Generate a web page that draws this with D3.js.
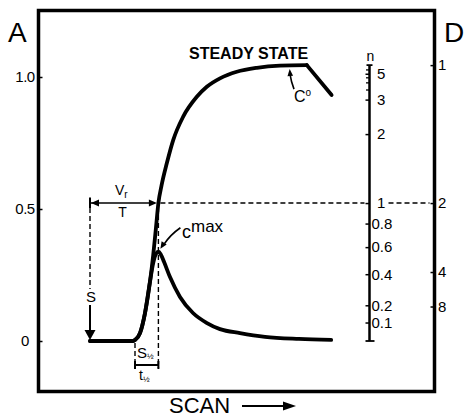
<!DOCTYPE html>
<html>
<head>
<meta charset="utf-8">
<script src="https://cdn.jsdelivr.net/npm/d3@7"></script>
<style>
  html, body { margin: 0; padding: 0; background: #fff; }
  svg { display: block; font-family: "Liberation Sans", Arial, Helvetica, sans-serif; }
</style>
</head>
<body>
<svg id="chart" width="464" height="417"></svg>
<script>
// Scan of a zone: steady-state front (reaches C0) and transient peak (cmax).
// x = scan distance (arbitrary units, 0 at the sample start), y = absorbance A.
const steadyScan = [
  [0, 0], [10.75, 0], [11.25, 0.004], [12.5, 0.03], [13.75, 0.106], [15, 0.225],
  [15.8, 0.325], [16.5, 0.43], [17.1, 0.5225], [17.9, 0.59], [19.2, 0.673],
  [20.8, 0.761], [23.3, 0.85], [26.7, 0.925], [29.2, 0.963], [32.5, 0.995],
  [36.7, 1.02], [41.7, 1.035], [47.5, 1.043], [54.2, 1.045]
];
const steadyFallOff = [[54.2, 1.045], [60.4, 0.932]];
const peakScan = [
  [0, 0], [10.75, 0], [11.25, 0.004], [12.5, 0.03], [13.75, 0.106], [15, 0.225],
  [15.8, 0.295], [16.5, 0.33], [17.1, 0.338], [17.7, 0.328], [18.5, 0.3],
  [20, 0.242], [22.5, 0.167], [25.75, 0.106], [29.25, 0.068], [32.5, 0.045],
  [37.5, 0.03], [43.75, 0.016], [52.25, 0.008], [60.3, 0.004]
];

const steadyLevel = 1.045;          // C0, plateau absorbance
const scanStart = 0;                // S
const frontStart = 11.25;           // start of the rising front
const halfPoint = 17.1;             // front at C0/2

const aTicks = [0, 0.5, 1.0];
const aTickLabels = ["0", "0.5", "1.0"];
const nTicks = [0.1, 0.2, 0.4, 0.6, 0.8, 1, 2, 3, 5];
const nTickLabels = ["0.1", "0.2", "0.4", "0.6", "0.8", "1", "2", "3", "5"];
const nMinorTicks = [3.5, 4, 4.5, 6];
const dTicks = [1, 2, 4, 8];
const dTickLabels = ["1", "2", "4", "8"];

// nomogram relations onto the absorbance scale
const nToA = n => steadyLevel * (1 - Math.pow(2, -n));
const dToA = d => steadyLevel / d;

const svg = d3.select("#chart");
const x = d3.scaleLinear().domain([-13, 86]).range([38, 434]);
const y = d3.scaleLinear().domain([0, 1]).range([341, 77]);

const frame = { left: 38.5, right: 434.5, top: 10.5, bottom: 391.5 };
const nAxisX = 369.5;

// frame
svg.append("rect")
  .attr("x", frame.left).attr("y", frame.top)
  .attr("width", frame.right - frame.left).attr("height", frame.bottom - frame.top)
  .attr("fill", "none").attr("stroke", "#000").attr("stroke-width", 3.5);

// left absorbance axis (ticks pointing inward)
const leftAxis = svg.append("g")
  .attr("transform", `translate(${frame.left},0)`)
  .call(d3.axisLeft(y).tickValues(aTicks).tickSizeInner(-4).tickSizeOuter(0)
    .tickFormat((d, i) => aTickLabels[i]));
leftAxis.select(".domain").remove();
leftAxis.selectAll(".tick line").attr("stroke", "#000").attr("stroke-width", 1.5);
leftAxis.selectAll(".tick text")
  .attr("x", -13.5).attr("text-anchor", "middle")
  .attr("font-size", 15).attr("font-family", "Liberation Sans, Arial, sans-serif")
  .attr("letter-spacing", -0.5).attr("fill", "#000");

// right D axis on the frame edge
const dAxis = svg.append("g")
  .attr("transform", `translate(${frame.right},0)`)
  .call(d3.axisRight(y).tickValues(dTicks.map(dToA)).tickSizeInner(-4).tickSizeOuter(0)
    .tickPadding(3.5).tickFormat((d, i) => dTickLabels[i]));
dAxis.select(".domain").remove();
dAxis.selectAll(".tick line").attr("stroke", "#000").attr("stroke-width", 1.5);
dAxis.selectAll(".tick text")
  .attr("font-size", 15).attr("font-family", "Liberation Sans, Arial, sans-serif").attr("fill", "#000");

// n axis (number of half-lives)
const nAxisG = svg.append("g");
nAxisG.append("line")
  .attr("x1", nAxisX).attr("x2", nAxisX)
  .attr("y1", y(0)).attr("y2", y(steadyLevel))
  .attr("stroke", "#000").attr("stroke-width", 2.5);
nAxisG.append("line")
  .attr("x1", nAxisX - 4).attr("x2", nAxisX + 5)
  .attr("y1", y(0)).attr("y2", y(0))
  .attr("stroke", "#000").attr("stroke-width", 1.8);
nAxisG.append("line")
  .attr("x1", nAxisX - 3).attr("x2", nAxisX + 3)
  .attr("y1", y(steadyLevel)).attr("y2", y(steadyLevel))
  .attr("stroke", "#000").attr("stroke-width", 1.8);
const nAxis = nAxisG.append("g")
  .attr("transform", `translate(${nAxisX},0)`)
  .call(d3.axisRight(y).tickValues(nTicks.map(nToA)).tickSizeInner(-4).tickSizeOuter(0)
    .tickPadding(2).tickFormat((d, i) => nTickLabels[i]));
nAxis.select(".domain").remove();
nAxis.selectAll(".tick line").attr("stroke", "#000").attr("stroke-width", 1.5);
nAxis.selectAll(".tick text")
  .attr("font-size", 15).attr("font-family", "Liberation Sans, Arial, sans-serif").attr("fill", "#000")
  .attr("x", (d, i) => nTicks[i] >= 1 ? 7.5 : 2);
const nMinor = nAxisG.append("g")
  .attr("transform", `translate(${nAxisX},0)`)
  .call(d3.axisRight(y).tickValues(nMinorTicks.map(nToA)).tickSizeInner(-3.5).tickSizeOuter(0)
    .tickFormat(""));
nMinor.select(".domain").remove();
nMinor.selectAll(".tick line").attr("stroke", "#000").attr("stroke-width", 1.3);
nAxisG.append("text")
  .attr("x", nAxisX + 1).attr("y", y(steadyLevel) - 4)
  .attr("text-anchor", "middle").attr("font-size", 14).text("n");

// dashed guides
const dash = "5,3";
const guides = svg.append("g")
  .attr("stroke", "#000").attr("stroke-width", 1.4).attr("stroke-dasharray", dash).attr("fill", "none");
const yHalf = y(steadyLevel / 2);
guides.append("line").attr("x1", x(halfPoint) + 2).attr("x2", nAxisX - 5).attr("y1", yHalf).attr("y2", yHalf);
guides.append("line").attr("x1", nAxisX + 19).attr("x2", frame.right - 5).attr("y1", yHalf).attr("y2", yHalf);
guides.append("line").attr("x1", x(scanStart)).attr("x2", x(scanStart)).attr("y1", yHalf + 5).attr("y2", y(0) - 52);
guides.append("line").attr("x1", x(halfPoint)).attr("x2", x(halfPoint)).attr("y1", yHalf + 4).attr("y2", y(0) + 27);
guides.append("line").attr("x1", x(frontStart)).attr("x2", x(frontStart)).attr("y1", y(0) + 2).attr("y2", y(0) + 27);

// curves
const line = d3.line().x(d => x(d[0])).y(d => y(d[1]));
const curves = svg.append("g")
  .attr("fill", "none").attr("stroke", "#000").attr("stroke-width", 3.8)
  .attr("stroke-linejoin", "round").attr("stroke-linecap", "round");
curves.append("path").attr("d", line.curve(d3.curveMonotoneX)(peakScan));
curves.append("path").attr("d", line.curve(d3.curveMonotoneX)(steadyScan));
curves.append("path").attr("d", line.curve(d3.curveLinear)(steadyFallOff));

// arrowhead helper: tip at (tx,ty), pointing along angle (radians)
function head(g, tx, ty, angle, len, half) {
  const c = Math.cos(angle), s = Math.sin(angle);
  const bx = tx - c * len, by = ty - s * len;
  g.append("path")
    .attr("d", `M${tx},${ty}L${bx - s * half},${by + c * half}L${bx + s * half},${by - c * half}Z`)
    .attr("fill", "#000").attr("stroke", "none");
}

const ann = svg.append("g").attr("stroke", "#000").attr("fill", "none");

// Vr / T arrow
const xs = x(scanStart), xh = x(halfPoint);
ann.append("line").attr("x1", xs).attr("x2", xh - 4).attr("y1", yHalf).attr("y2", yHalf).attr("stroke-width", 1.6);
ann.append("line").attr("x1", xs).attr("x2", xs).attr("y1", yHalf - 5.5).attr("y2", yHalf + 5).attr("stroke-width", 2);
head(ann, xs + 1, yHalf, Math.PI, 8, 3.5);
head(ann, xh - 1.5, yHalf, 0, 8, 3.5);

// S arrow
ann.append("line").attr("x1", xs).attr("x2", xs).attr("y1", y(0) - 36).attr("y2", y(0) - 8).attr("stroke-width", 2);
head(ann, xs, y(0) - 1, Math.PI / 2, 10, 5.5);

// t1/2 bar
const yT = y(0) + 24;
const xf = x(frontStart);
ann.append("line").attr("x1", xf).attr("x2", xh).attr("y1", yT).attr("y2", yT).attr("stroke-width", 2);
ann.append("line").attr("x1", xf).attr("x2", xf).attr("y1", yT - 4).attr("y2", yT + 4).attr("stroke-width", 2);
ann.append("line").attr("x1", xh).attr("x2", xh).attr("y1", yT - 4).attr("y2", yT + 4).attr("stroke-width", 2);

// C0 pointer
const c0x = x(50), c0y = y(steadyLevel) + 4;
ann.append("path").attr("d", `M${c0x + 4},${c0y + 20}Q${c0x + 1},${c0y + 12} ${c0x},${c0y + 5}`).attr("stroke-width", 1.6);
head(ann, c0x - 0.3, c0y, -Math.PI / 2 - 0.08, 7, 2.8);

// cmax pointer
const pkx = x(17.1) + 2, pky = y(0.338) - 3;
ann.append("path").attr("d", `M${pkx + 20},${pky - 21}Q${pkx + 10},${pky - 14} ${pkx + 4},${pky - 5}`).attr("stroke-width", 1.6);
head(ann, pkx, pky, Math.PI * 0.68, 7, 3);

// text
const txt = svg.append("g").attr("fill", "#000");
txt.append("text").attr("x", 8).attr("y", 42).attr("font-size", 28).text("A");
txt.append("text").attr("x", 444).attr("y", 42).attr("font-size", 28).text("D");
txt.append("text").attr("x", 189).attr("y", 59).attr("font-size", 16).attr("font-weight", "bold").text("STEADY STATE");

const c0 = txt.append("text").attr("x", 294).attr("y", 102).attr("font-size", 16);
c0.append("tspan").text("C");
c0.append("tspan").attr("font-size", 10).attr("dy", -6).text("o");

const cm = txt.append("text").attr("x", 182).attr("y", 238).attr("font-size", 18);
cm.append("tspan").text("c");
cm.append("tspan").attr("font-size", 17).attr("dy", -6).text("max");

const vr = txt.append("text").attr("x", 115).attr("y", 195).attr("font-size", 14);
vr.append("tspan").text("V");
vr.append("tspan").attr("font-size", 10).attr("dy", 3).text("r");
txt.append("text").attr("x", 122.5).attr("y", 217).attr("font-size", 14).attr("text-anchor", "middle").text("T");

txt.append("text").attr("x", xs + 1).attr("y", y(0) - 39).attr("font-size", 15).attr("text-anchor", "middle").text("S");

const sh = txt.append("text").attr("x", 137).attr("y", 358).attr("font-size", 15);
sh.append("tspan").text("S");
sh.append("tspan").attr("font-size", 8).attr("dy", 1).text("½");
const th = txt.append("text").attr("x", 139).attr("y", 380).attr("font-size", 14);
th.append("tspan").text("t");
th.append("tspan").attr("font-size", 8).attr("dy", 2).text("½");

txt.append("text").attr("x", 169).attr("y", 413).attr("font-size", 22).text("SCAN");
svg.append("line").attr("x1", 242).attr("x2", 285).attr("y1", 406).attr("y2", 406)
  .attr("stroke", "#000").attr("stroke-width", 2);
head(svg, 296, 406, 0, 13, 4.5);
</script>
</body>
</html>
